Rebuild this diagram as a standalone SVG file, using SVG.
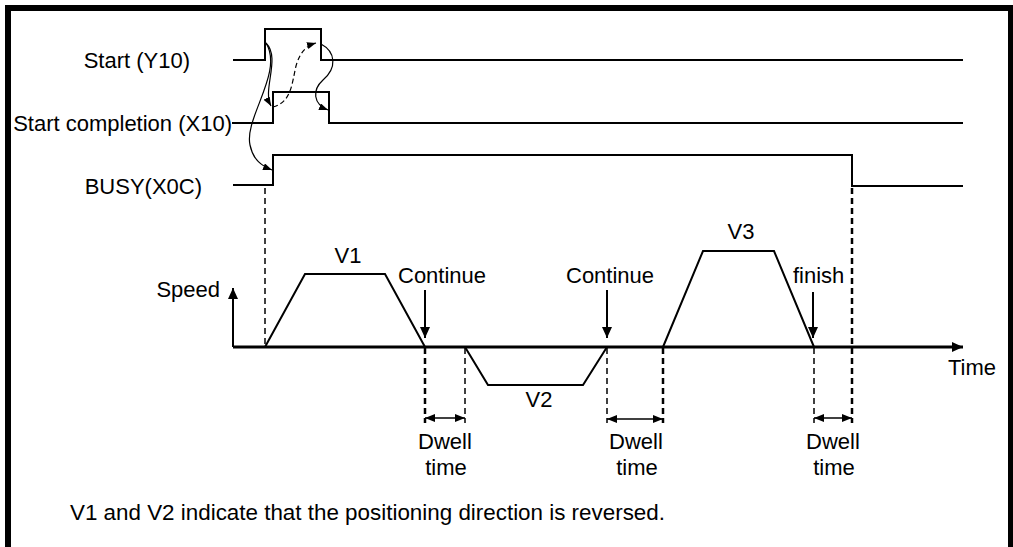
<svg xmlns="http://www.w3.org/2000/svg" width="1013" height="547" viewBox="0 0 1013 547">
<style>
text{font-family:"Liberation Sans",Arial,sans-serif;font-size:22px;fill:#000}
.sig{fill:none;stroke:#000;stroke-width:2}
.prof{fill:none;stroke:#000;stroke-width:2}
.axis{fill:none;stroke:#000;stroke-width:3}
.curve{fill:none;stroke:#000;stroke-width:1.2}
.dash1{stroke:#000;stroke-width:1.5;stroke-dasharray:6 4}
.dash2{stroke:#000;stroke-width:2.5;stroke-dasharray:6 4}
.arr{stroke:#000;stroke-width:2;fill:none}
.dw{stroke:#000;stroke-width:1.5;fill:none}
</style>
<defs>
<marker id="ah" markerUnits="userSpaceOnUse" markerWidth="10" markerHeight="8" refX="9" refY="3.5" orient="auto"><path d="M0,0 L9,3.5 L0,7 z" fill="#000"/></marker>
<marker id="big" markerUnits="userSpaceOnUse" markerWidth="12" markerHeight="11" refX="11" refY="5" orient="auto"><path d="M0,0 L11,5 L0,10 z" fill="#000"/></marker>
<marker id="dwm" markerUnits="userSpaceOnUse" markerWidth="11" markerHeight="9" refX="10" refY="4" orient="auto-start-reverse"><path d="M0,0 L10,4 L0,8 z" fill="#000"/></marker>
</defs>
<rect x="0" y="0" width="1013" height="547" fill="#fff"/>
<rect id="frame" x="8" y="8" width="1003" height="600" fill="none" stroke="#000" stroke-width="6"/>

<g id="start-y10">
<text x="190" y="68" text-anchor="end">Start (Y10)</text>
<polyline class="sig" points="233,60 265,60 265,29 321,29 321,60 963,60"/>
</g>
<g id="start-completion-x10">
<text x="232" y="131" text-anchor="end">Start completion (X10)</text>
<polyline class="sig" points="232,123 273,123 273,92 329,92 329,123 963,123"/>
</g>
<g id="busy-x0c">
<text x="202" y="194" text-anchor="end">BUSY(X0C)</text>
<polyline class="sig" points="233,185 273,185 273,155 852,155 852,186 963,186"/>
</g>

<g id="speed-chart">
<text x="220" y="297" text-anchor="end">Speed</text>
<line class="arr" x1="233" y1="347" x2="233" y2="288" marker-end="url(#big)"/>
<line class="axis" x1="233" y1="347" x2="963" y2="347" marker-end="url(#big)"/>
<text x="948" y="375">Time</text>
</g>

<g id="v1">
<polyline class="prof" points="265,347 305,274 385,274 425,347"/>
<text x="348" y="263" text-anchor="middle">V1</text>
</g>
<g id="v2">
<polyline class="prof" points="465,347 488,385 583,385 607,347"/>
<text x="539" y="407" text-anchor="middle">V2</text>
</g>
<g id="v3">
<polyline class="prof" points="663,347 703,251 774,251 814,347"/>
<text x="741" y="239" text-anchor="middle">V3</text>
</g>

<g id="continue-1">
<text x="398" y="283">Continue</text>
<line class="arr" x1="425" y1="290" x2="425" y2="338" marker-end="url(#big)"/>
</g>
<g id="continue-2">
<text x="566" y="283">Continue</text>
<line class="arr" x1="607" y1="290" x2="607" y2="338" marker-end="url(#big)"/>
</g>
<g id="finish">
<text x="793" y="283">finish</text>
<line class="arr" x1="813" y1="292" x2="813" y2="338" marker-end="url(#big)"/>
</g>

<g id="connectors">
<path class="curve" d="M266,43 C281,58 262,90 271,106" marker-end="url(#ah)"/>
<path class="curve" d="M266,43 C284,72 244,118 250,145 C253,160 262,166 272,170" marker-end="url(#ah)"/>
<path class="curve" d="M273,107 C292,102 292,82 296,66 C300,52 306,46 316,43" stroke-dasharray="5 3" marker-end="url(#ah)"/>
<path class="curve" d="M321,44 C336,52 337,68 323,80 C312,90 313,104 328,110" marker-end="url(#ah)"/>

<line class="dash1" x1="265" y1="188" x2="265" y2="347"/>
<line class="dash2" x1="852" y1="188" x2="852" y2="423"/>
<line class="dash2" x1="425" y1="348" x2="425" y2="423"/>
<line class="dash1" x1="465" y1="348" x2="465" y2="423"/>
<line class="dash1" x1="607" y1="348" x2="607" y2="423"/>
<line class="dash2" x1="663" y1="348" x2="663" y2="423"/>
<line class="dash1" x1="814" y1="348" x2="814" y2="423"/>

<line class="dw" x1="425" y1="418" x2="465" y2="418" marker-start="url(#dwm)" marker-end="url(#dwm)"/>
<line class="dw" x1="607" y1="419" x2="663" y2="419" marker-start="url(#dwm)" marker-end="url(#dwm)"/>
<line class="dw" x1="814" y1="418" x2="852" y2="418" marker-start="url(#dwm)" marker-end="url(#dwm)"/>
</g>

<g id="dwell-1"><text x="445" y="449" text-anchor="middle">Dwell</text><text x="446" y="475" text-anchor="middle">time</text></g>
<g id="dwell-2"><text x="636" y="449" text-anchor="middle">Dwell</text><text x="637" y="475" text-anchor="middle">time</text></g>
<g id="dwell-3"><text x="833" y="449" text-anchor="middle">Dwell</text><text x="834" y="475" text-anchor="middle">time</text></g>

<text id="note" x="70" y="520" style="font-size:22.4px">V1 and V2 indicate that the positioning direction is reversed.</text>
</svg>
